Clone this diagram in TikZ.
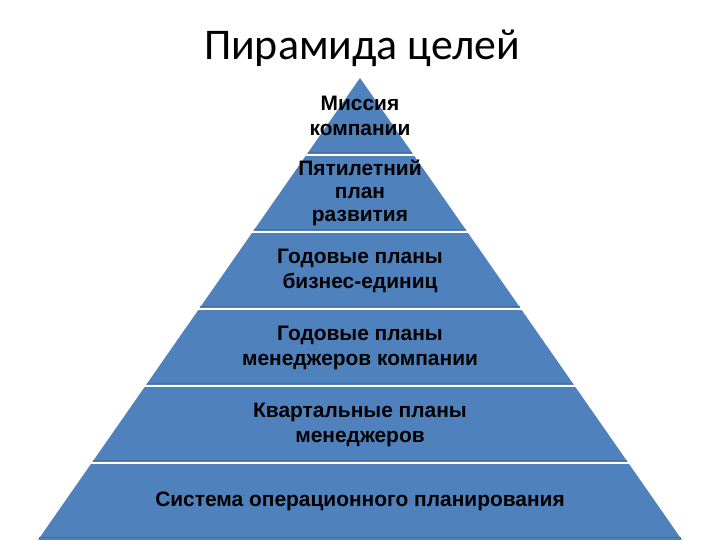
\documentclass[tikz,border=0pt]{standalone}
\usepackage{fontspec}
\setmainfont{Liberation Sans}
\newfontfamily\titlefont{Carlito}
\definecolor{pyr}{HTML}{4F81BD}
\definecolor{pyrdark}{HTML}{44709F}
\tikzset{
  lbl/.style={align=center, font=\bfseries\fontsize{21}{25.5}\selectfont, text=black, inner sep=0pt},
  sep/.style={white, line width=2.6bp},
}
\begin{document}
\begin{tikzpicture}[x=1bp,y=-1bp]
\useasboundingbox (0,0) rectangle (720,540);
\node[font=\titlefont\fontsize{44}{48}\selectfont, anchor=base] (title) at (362,60) {Пирамида целей};
\fill[pyr] (360,78) -- (682,540) -- (38,540) -- cycle;
\foreach \y in {155,232,309,386,463,540} {
  \pgfmathsetmacro{\hw}{0.697*(\y-78)}
  \draw[pyrdark, line width=1.2bp] ({360-\hw+1.5},\y-2.5) -- ({360+\hw-1.5},\y-2.5);
}
\foreach \y in {155,232,309,386,463} {
  \pgfmathsetmacro{\hw}{0.697*(\y-78)}
  \draw[sep] ({360-\hw-3},\y) -- ({360+\hw+3},\y);
}
\node[lbl] (b1) at (360,116) {Миссия\\компании};
\node[lbl, font=\bfseries\fontsize{21}{23}\selectfont] (b2) at (360,193) {Пятилетний\\план\\развития};
\node[lbl] (b3) at (360,271) {Годовые планы\\бизнес-единиц};
\node[lbl] (b4) at (360,348) {Годовые планы\\менеджеров компании};
\node[lbl] (b5) at (360,425) {Квартальные планы\\менеджеров};
\node[lbl] (b6) at (360,501) {Система операционного планирования};
\end{tikzpicture}
\end{document}
